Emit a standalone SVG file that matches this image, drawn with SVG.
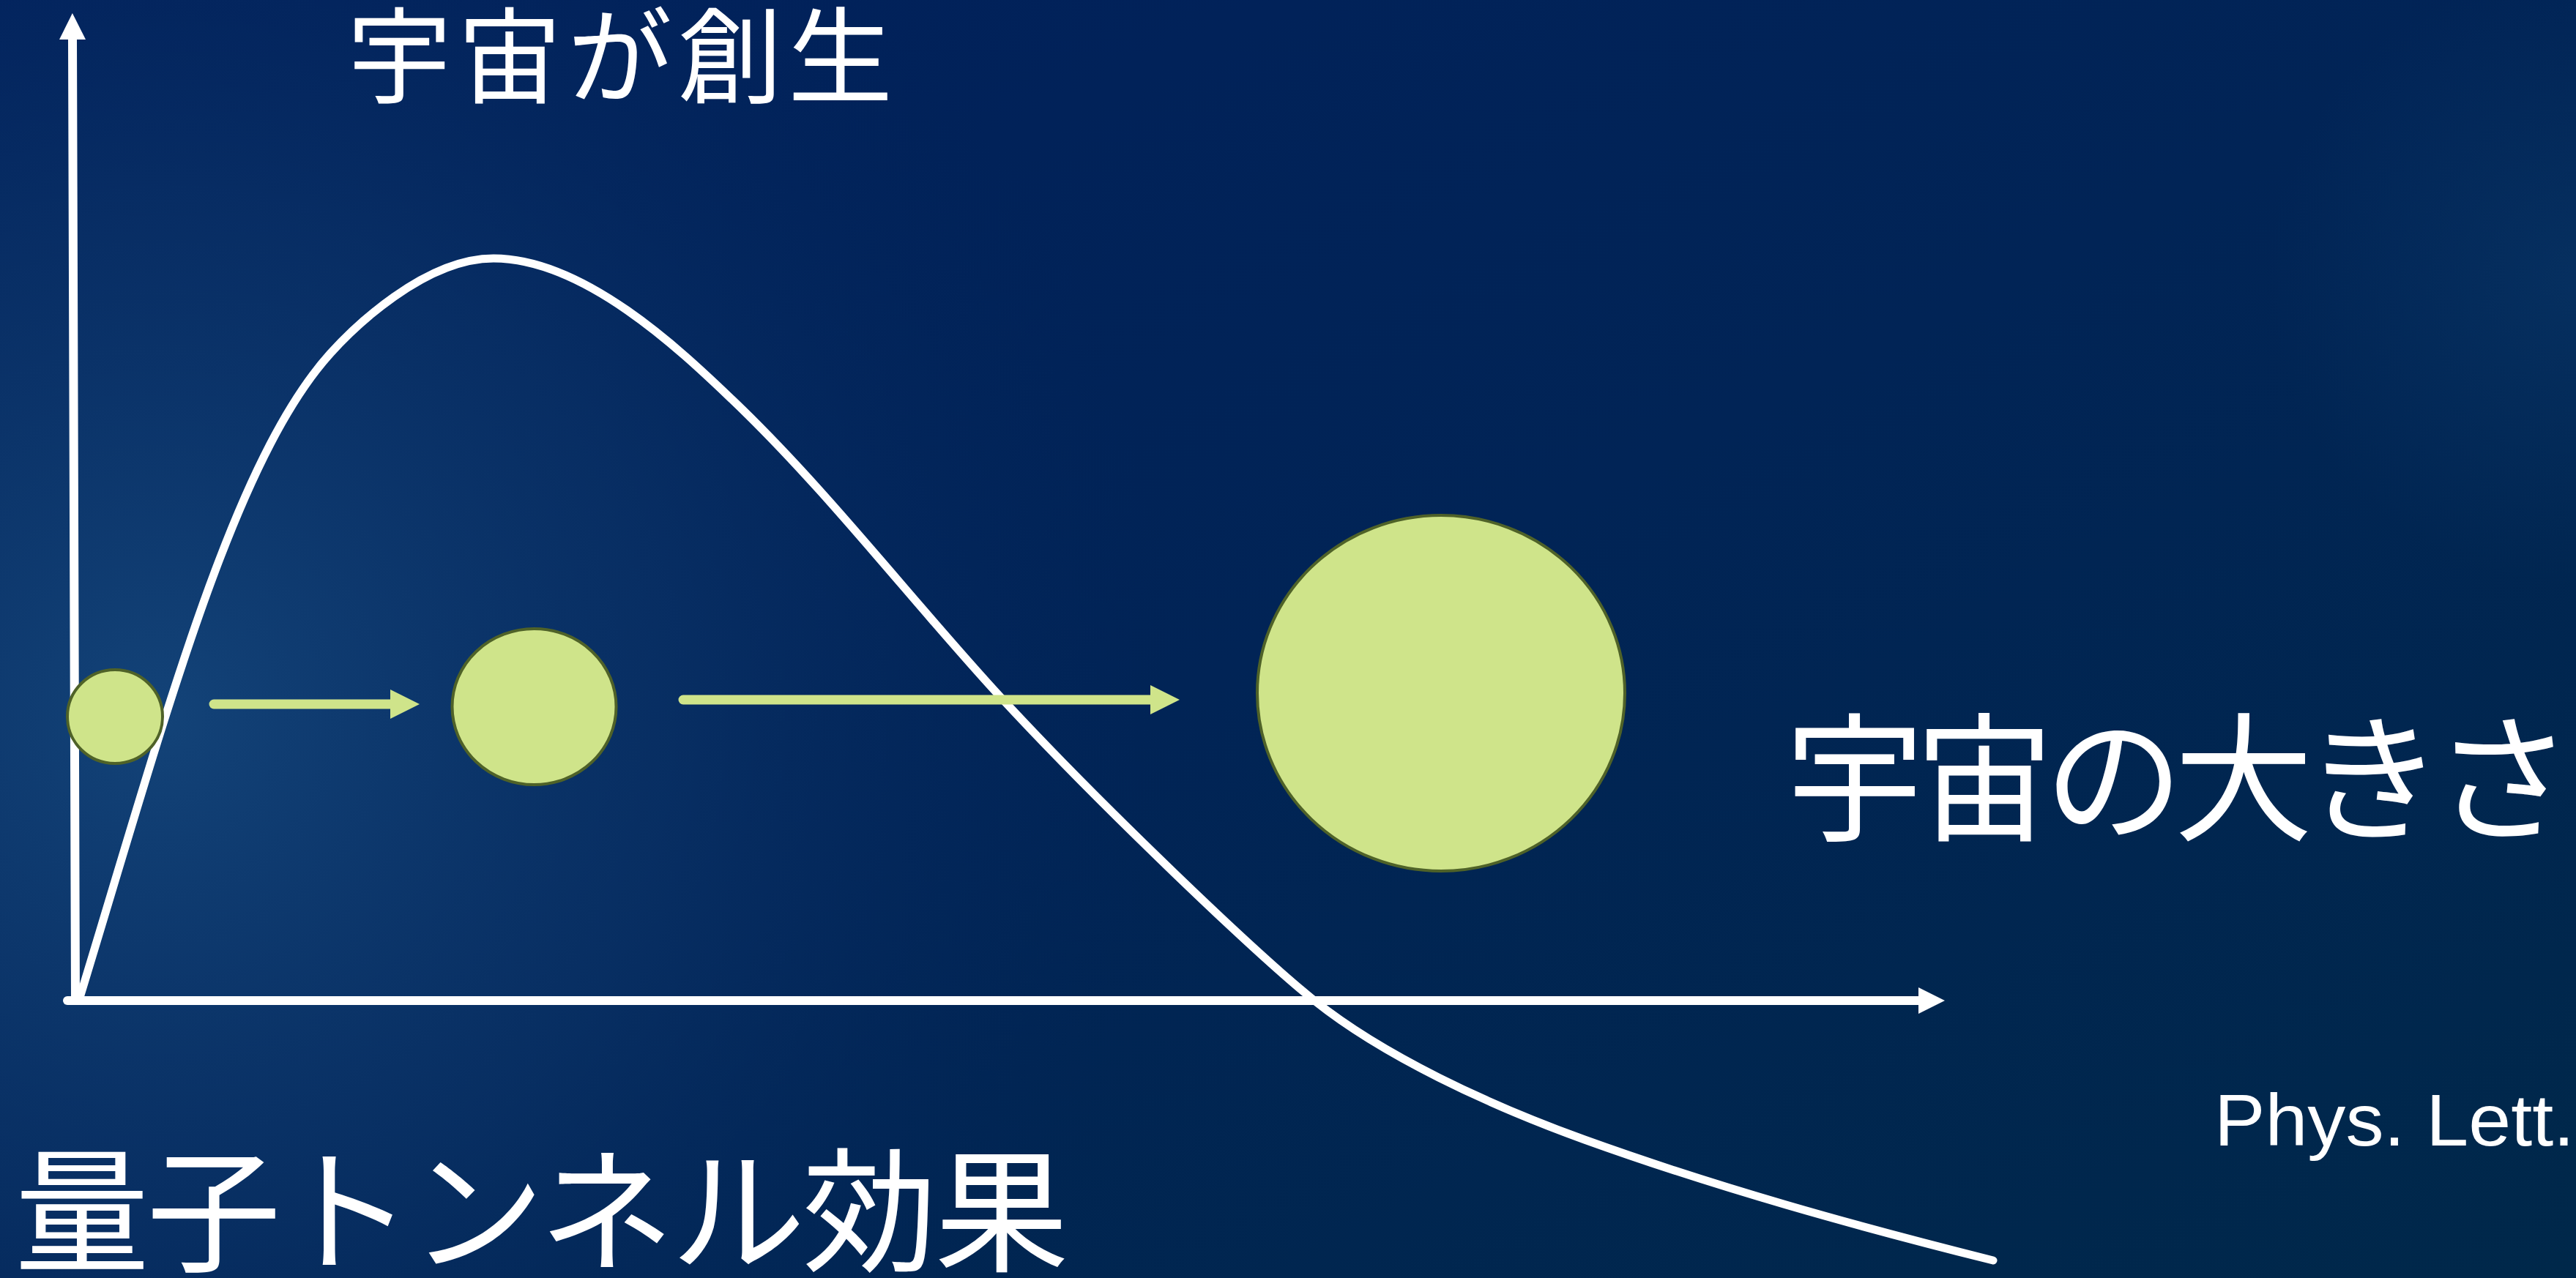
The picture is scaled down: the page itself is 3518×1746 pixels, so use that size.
<svg xmlns="http://www.w3.org/2000/svg" width="3518" height="1746" viewBox="0 0 3518 1746">
  <defs>
    <linearGradient id="bgLin" x1="0" y1="0" x2="1" y2="1">
      <stop offset="0" stop-color="#01205C"/>
      <stop offset="0.5" stop-color="#012456"/>
      <stop offset="1" stop-color="#00284A"/>
    </linearGradient>
    <radialGradient id="bgGlow" gradientUnits="userSpaceOnUse" cx="220" cy="980" r="1400">
      <stop offset="0" stop-color="#134378" stop-opacity="1"/>
      <stop offset="0.5" stop-color="#0C356A" stop-opacity="0.6"/>
      <stop offset="1" stop-color="#01245A" stop-opacity="0"/>
    </radialGradient>
    <radialGradient id="bgGlowR" gradientUnits="userSpaceOnUse" cx="3518" cy="380" r="420">
      <stop offset="0" stop-color="#0B3A6C" stop-opacity="0.5"/>
      <stop offset="1" stop-color="#0B3A6C" stop-opacity="0"/>
    </radialGradient>
    <marker id="axisHead" markerUnits="userSpaceOnUse" viewBox="0 -18 36 36" refX="1" refY="0" markerWidth="36" markerHeight="36" orient="auto">
      <path d="M0,-18 L36,0 L0,18 Z" fill="#FFFFFF"/>
    </marker>
    <marker id="greenHead" markerUnits="userSpaceOnUse" viewBox="0 -20 40 40" refX="1" refY="0" markerWidth="40" markerHeight="40" orient="auto">
      <path d="M0,-20 L40,0 L0,20 Z" fill="#CFE48A"/>
    </marker>
    <style>
      .axis { stroke: #FFFFFF; stroke-width: 12; fill: none; stroke-linecap: round; }
      .curve { stroke: #FFFFFF; stroke-width: 11; fill: none; stroke-linecap: round; stroke-linejoin: round; }
      .growth { stroke: #CFE48A; stroke-width: 13; fill: none; stroke-linecap: round; }
      .universe { fill: #CFE48A; stroke: #4F6228; stroke-width: 4; }
      .jp { font-family: "Noto Sans CJK JP", "Noto Sans", sans-serif; fill: #FFFFFF; }
      .en { font-family: "Liberation Sans", Arial, sans-serif; fill: #FFFFFF; }
    </style>
  </defs>

  <rect x="0" y="0" width="3518" height="1746" fill="url(#bgLin)"/>
  <rect x="0" y="0" width="3518" height="1746" fill="url(#bgGlow)"/>
  <rect x="0" y="0" width="3518" height="1746" fill="url(#bgGlowR)"/>

  <g id="connectors">
    <line id="y-axis" class="axis" x1="103" y1="1367" x2="99" y2="53" marker-end="url(#axisHead)"/>
    <line id="x-axis" class="axis" x1="92" y1="1367" x2="2621" y2="1367" marker-end="url(#axisHead)"/>
    <path id="potential-curve" class="curve" d="M108,1366 C224.8,983.6 317.2,631.6 451,483 C481.1,449.6 579,353 674,353 C800,353 935,484 1000,546 C1130,670 1247,823 1367,953 C1503,1100 1717,1304.5 1795,1367 C1888.6,1442 2032.3,1509.5 2164,1557 C2347.5,1623.1 2532.9,1674.6 2722,1722"/>
  </g>

  <g id="universe-small">
    <ellipse class="universe" cx="157" cy="979" rx="65" ry="64"/>
  </g>
  <g id="universe-medium">
    <ellipse class="universe" cx="729.5" cy="965.5" rx="112" ry="106.5"/>
  </g>
  <g id="universe-large">
    <ellipse class="universe" cx="1968" cy="947" rx="251" ry="243"/>
  </g>

  <g id="growth-arrows">
    <line class="growth" x1="292" y1="962" x2="534" y2="962" marker-end="url(#greenHead)"/>
    <line class="growth" x1="933" y1="956" x2="1572" y2="956" marker-end="url(#greenHead)"/>
  </g>

  <g id="label-creation">
    <text class="jp" x="474" y="130" font-size="143" textLength="745" lengthAdjust="spacing">宇宙が創生</text>
  </g>
  <g id="label-size">
    <text class="jp" x="2438" y="1134" font-size="190" textLength="1075" lengthAdjust="spacing">宇宙の大きさ</text>
  </g>
  <g id="label-tunnel">
    <text class="jp" x="20" y="1723" font-size="184" textLength="1440" lengthAdjust="spacing">量子トンネル効果</text>
  </g>
  <g id="label-ref">
    <text class="en" x="3024" y="1565" font-size="100" textLength="492" lengthAdjust="spacingAndGlyphs">Phys. Lett.</text>
  </g>
</svg>
